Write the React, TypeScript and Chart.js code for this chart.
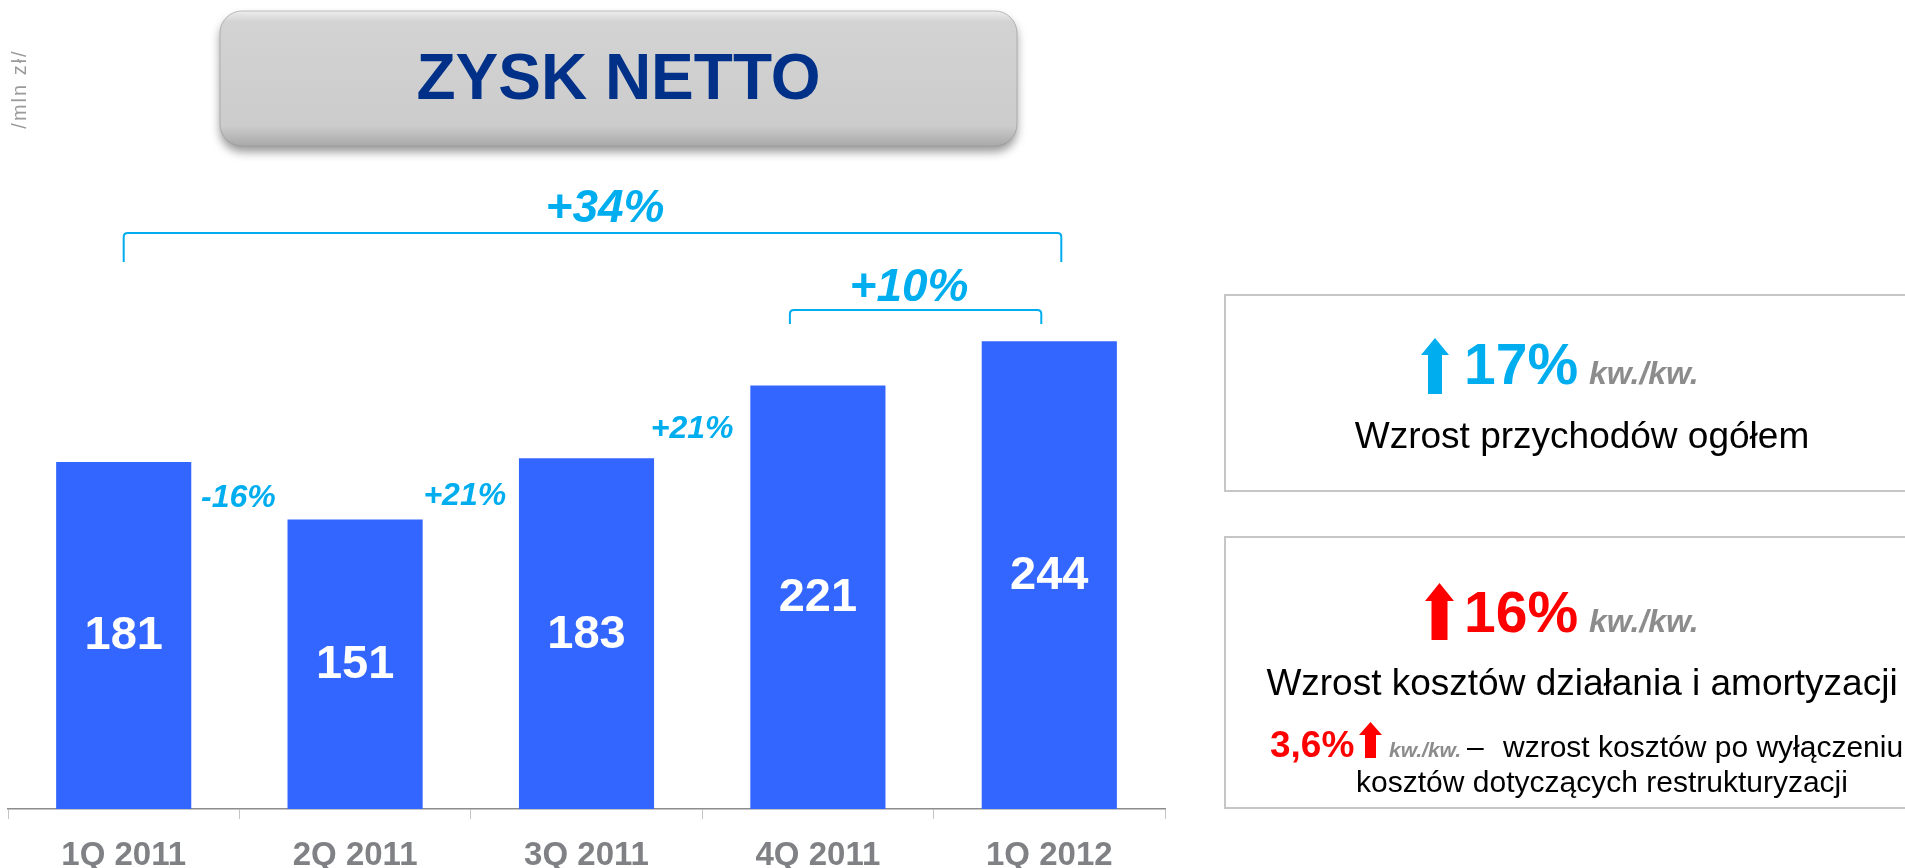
import React, { useEffect, useRef } from 'react';
import { Chart, registerables } from 'chart.js';

Chart.register(...registerables);

// ---- data ----
const categories = ['1Q 2011', '2Q 2011', '3Q 2011', '4Q 2011', '1Q 2012'];
const netProfit = [181, 151, 183, 221, 244];
const qoqChanges = ['-16%', '+21%', '+21%'];
const bracketLabels = ['+34%', '+10%'];
const unitLabel = '/mln zł/';
const chartTitle = 'ZYSK NETTO';
const revenueGrowth = '17%';
const costGrowth = '16%';
const costGrowthExRestructuring = '3,6%';
const qoqTag = 'kw./kw.';
const revenueCaption = 'Wzrost przychodów ogółem';
const costCaption = 'Wzrost kosztów działania i amortyzacji';
const costNote1 = 'wzrost kosztów po wyłączeniu';
const costNote2 = 'kosztów dotyczących restrukturyzacji';

const W = 1905;
const H = 868;
const CH = 900;
const FONT = '"Liberation Sans", Arial, Helvetica, sans-serif';
const CYAN = '#00AEEF';
const RED = '#FF0000';
const GRAY_TAG = '#8C8C8C';

function arrow(ctx: CanvasRenderingContext2D, cx: number, top: number, bottom: number, shaftW: number, headW: number, headH: number, color: string) {
  ctx.save();
  ctx.fillStyle = color;
  ctx.beginPath();
  ctx.moveTo(cx, top);
  ctx.lineTo(cx + headW / 2, top + headH);
  ctx.lineTo(cx + shaftW / 2, top + headH);
  ctx.lineTo(cx + shaftW / 2, bottom);
  ctx.lineTo(cx - shaftW / 2, bottom);
  ctx.lineTo(cx - shaftW / 2, top + headH);
  ctx.lineTo(cx - headW / 2, top + headH);
  ctx.closePath();
  ctx.fill();
  ctx.restore();
}

function bracket(ctx: CanvasRenderingContext2D, left: number, right: number, top: number, bottom: number) {
  const r = 4;
  ctx.save();
  ctx.strokeStyle = CYAN;
  ctx.lineWidth = 2;
  ctx.beginPath();
  ctx.moveTo(left, bottom);
  ctx.lineTo(left, top + r);
  ctx.quadraticCurveTo(left, top, left + r, top);
  ctx.lineTo(right - r, top);
  ctx.quadraticCurveTo(right, top, right, top + r);
  ctx.lineTo(right, bottom);
  ctx.stroke();
  ctx.restore();
}

const overlayPlugin = {
  id: 'overlay',
  afterDraw(chart: any) {
    const ctx: CanvasRenderingContext2D = chart.ctx;
    const xs = chart.scales.x;
    const ys = chart.scales.y;
    const meta = chart.getDatasetMeta(0);

    // values inside bars
    ctx.save();
    ctx.font = `bold 47px ${FONT}`;
    ctx.fillStyle = '#FFFFFF';
    ctx.textAlign = 'center';
    ctx.textBaseline = 'middle';
    meta.data.forEach((bar: any, i: number) => {
      const p = bar.getProps(['x', 'y', 'base'], true);
      ctx.fillText(String(netProfit[i]), p.x, (p.y + p.base) / 2 + 1);
    });
    ctx.restore();

    // quarter-on-quarter changes between bars
    ctx.save();
    ctx.font = `italic bold 32px ${FONT}`;
    ctx.fillStyle = CYAN;
    ctx.textAlign = 'center';
    ctx.textBaseline = 'middle';
    const dxs = [-1, -6, -10];
    qoqChanges.forEach((t, i) => {
      const bx = (xs.getPixelForValue(i) + xs.getPixelForValue(i + 1)) / 2 + dxs[i];
      const by = ys.getPixelForValue((netProfit[i] + netProfit[i + 1]) / 2) + 7;
      ctx.fillText(t, bx, by);
    });
    ctx.restore();

    // brackets
    const b1l = xs.getPixelForValue(0);
    const b1r = xs.getPixelForValue(4) + 12;
    bracket(ctx, b1l, b1r, 233, 262);
    const b2l = xs.getPixelForValue(3) - 28;
    const b2r = xs.getPixelForValue(4) - 8;
    bracket(ctx, b2l, b2r, 310, 324);
    ctx.save();
    ctx.font = `italic bold 46px ${FONT}`;
    ctx.fillStyle = CYAN;
    ctx.textAlign = 'center';
    ctx.textBaseline = 'middle';
    ctx.fillText(bracketLabels[0], 605, 209);
    ctx.fillText(bracketLabels[1], 909, 288);
    ctx.restore();

    // unit label
    ctx.save();
    ctx.translate(26, 89);
    ctx.rotate(-Math.PI / 2);
    ctx.font = `20px ${FONT}`;
    (ctx as any).letterSpacing = '2px';
    ctx.fillStyle = '#9A9A9A';
    ctx.textAlign = 'center';
    ctx.textBaseline = 'alphabetic';
    ctx.fillText(unitLabel, 0, 0);
    ctx.restore();

    // title box
    ctx.save();
    const tx = 220, ty = 11, tw = 797, th = 135, tr = 22;
    ctx.shadowColor = 'rgba(0,0,0,0.4)';
    ctx.shadowBlur = 10;
    ctx.shadowOffsetY = 6;
    const g = ctx.createLinearGradient(0, ty, 0, ty + th);
    g.addColorStop(0, '#EDEDED');
    g.addColorStop(0.08, '#D3D3D3');
    g.addColorStop(0.85, '#CCCCCC');
    g.addColorStop(1, '#A9A9A9');
    ctx.fillStyle = g;
    ctx.beginPath();
    (ctx as any).roundRect(tx, ty, tw, th, tr);
    ctx.fill();
    ctx.shadowColor = 'transparent';
    ctx.strokeStyle = 'rgba(150,150,150,0.6)';
    ctx.lineWidth = 1;
    ctx.stroke();
    ctx.font = `bold 64px ${FONT}`;
    ctx.fillStyle = '#003087';
    ctx.textAlign = 'center';
    ctx.textBaseline = 'middle';
    ctx.fillText(chartTitle, tx + tw / 2, 81);
    ctx.restore();

    // right-hand boxes
    ctx.save();
    ctx.strokeStyle = '#C6C6C6';
    ctx.lineWidth = 2;
    ctx.strokeRect(1225, 295, 714, 196);
    ctx.strokeRect(1225, 537, 714, 271);
    ctx.restore();

    ctx.save();
    ctx.textBaseline = 'alphabetic';
    ctx.textAlign = 'left';
    // box 1
    arrow(ctx, 1435, 338, 394, 14, 28, 17, CYAN);
    ctx.font = `bold 57px ${FONT}`;
    ctx.fillStyle = CYAN;
    ctx.fillText(revenueGrowth, 1464, 384);
    ctx.font = `italic bold 32px ${FONT}`;
    ctx.fillStyle = GRAY_TAG;
    ctx.fillText(qoqTag, 1589, 384);
    ctx.font = `37px ${FONT}`;
    ctx.fillStyle = '#000000';
    ctx.textAlign = 'center';
    ctx.fillText(revenueCaption, 1582, 448);

    // box 2
    ctx.textAlign = 'left';
    arrow(ctx, 1439.5, 583, 640, 16, 29, 18, RED);
    ctx.font = `bold 57px ${FONT}`;
    ctx.fillStyle = RED;
    ctx.fillText(costGrowth, 1464, 632);
    ctx.font = `italic bold 32px ${FONT}`;
    ctx.fillStyle = GRAY_TAG;
    ctx.fillText(qoqTag, 1589, 632);
    ctx.font = `37px ${FONT}`;
    ctx.fillStyle = '#000000';
    ctx.textAlign = 'center';
    ctx.fillText(costCaption, 1582, 695);

    ctx.textAlign = 'left';
    ctx.font = `bold 37px ${FONT}`;
    ctx.fillStyle = RED;
    ctx.fillText(costGrowthExRestructuring, 1270, 757);
    arrow(ctx, 1370.5, 722, 758, 11, 23, 13, RED);
    ctx.font = `italic bold 21px ${FONT}`;
    ctx.fillStyle = GRAY_TAG;
    ctx.fillText(qoqTag, 1389, 757);
    ctx.font = `30px ${FONT}`;
    ctx.fillStyle = '#000000';
    ctx.fillText('–', 1467, 757);
    ctx.fillText(costNote1, 1503, 757);
    ctx.textAlign = 'center';
    ctx.fillText(costNote2, 1602, 792);
    ctx.restore();
  },
};

export default function App() {
  const ref = useRef<HTMLCanvasElement | null>(null);

  useEffect(() => {
    if (!ref.current) return;
    const chart = new Chart(ref.current, {
      type: 'bar',
      data: {
        labels: categories,
        datasets: [
          {
            data: netProfit,
            backgroundColor: '#3366FF',
            borderWidth: 0,
            barPercentage: 0.584,
            categoryPercentage: 1.0,
          },
        ],
      },
      options: {
        responsive: false,
        animation: false,
        devicePixelRatio: 1,
        layout: { padding: { left: 8, right: 740, top: 234, bottom: 8 } },
        plugins: {
          legend: { display: false },
          tooltip: { enabled: false },
          title: { display: false },
        },
        scales: {
          x: {
            grid: {
              display: true,
              drawOnChartArea: false,
              drawTicks: true,
              tickLength: 10,
              color: '#C4C4C4',
              offset: true,
            },
            border: { display: true, color: '#8C8C8C', width: 1.5 },
            ticks: {
              color: '#7F8184',
              padding: 20,
              font: { family: FONT, size: 33, weight: 'bold', lineHeight: 1 },
            },
          },
          y: { display: false, min: 0, max: 300 },
        },
      },
      plugins: [overlayPlugin],
    } as any);
    return () => chart.destroy();
  }, []);

  return (
    <div
      style={{
        position: 'absolute',
        left: 0,
        top: 0,
        width: W,
        height: H,
        overflow: 'hidden',
        background: '#FFFFFF',
      }}
    >
      <canvas ref={ref} width={W} height={CH} style={{ display: 'block', width: W, height: CH }} />
    </div>
  );
}
